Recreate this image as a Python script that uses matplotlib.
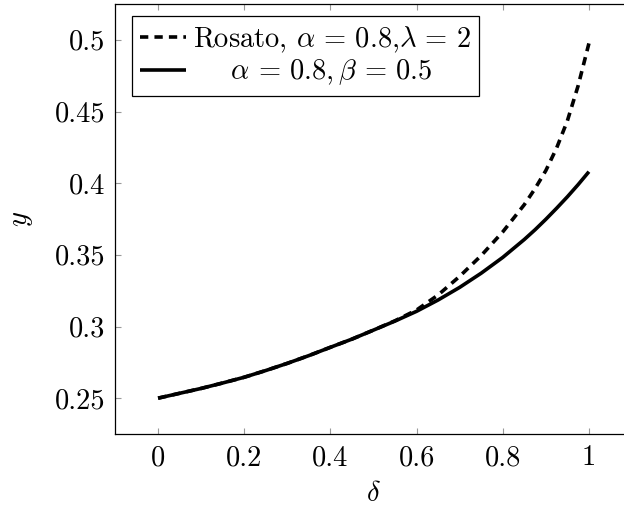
import matplotlib
matplotlib.use("Agg")
import matplotlib.pyplot as plt

# ---- data ----
delta = [0.0, 0.05, 0.1, 0.15, 0.2, 0.25, 0.3, 0.35, 0.4, 0.45, 0.5,
         0.55, 0.6, 0.65, 0.7, 0.75, 0.8, 0.85, 0.875, 0.9, 0.925, 0.95, 0.975, 1.0]
y_rosato = [0.250, 0.2534, 0.2568, 0.2606, 0.2646, 0.2693, 0.2743, 0.2797, 0.2855, 0.2912, 0.2975,
            0.3040, 0.3115, 0.3220, 0.3350, 0.3495, 0.3660, 0.3850, 0.3962, 0.4088, 0.4245,
            0.4435, 0.4680, 0.4975]
y_model = [0.250, 0.2534, 0.2568, 0.2606, 0.2646, 0.2693, 0.2743, 0.2797, 0.2855, 0.2912, 0.2975,
           0.3038, 0.3106, 0.3185, 0.3273, 0.3372, 0.3482, 0.3607, 0.3675, 0.3748, 0.3825,
           0.3905, 0.3990, 0.4080]
label_rosato = r"Rosato, $\alpha\,=\,0.8$,$\lambda\,=\,2$"
label_model = r"    $\alpha\,=\,0.8, \beta\,=\,0.5$"
xticks = [0, 0.2, 0.4, 0.6, 0.8, 1.0]
xticklabels = ["0", "0.2", "0.4", "0.6", "0.8", "1"]
yticks = [0.25, 0.3, 0.35, 0.4, 0.45, 0.5]
yticklabels = ["0.25", "0.3", "0.35", "0.4", "0.45", "0.5"]

plt.rcParams['font.family'] = 'serif'
plt.rcParams['font.serif'] = ['cmr10', 'DejaVu Serif']
plt.rcParams['mathtext.fontset'] = 'cm'
plt.rcParams['axes.formatter.use_mathtext'] = True

fig = plt.figure(figsize=(6.24, 5.08), dpi=100)
ax = fig.add_axes([115/624, 74/508, (632-115)/624, 430/508])

fs = 20.5
ax.plot(delta, y_rosato, color='black', lw=2.6, linestyle=(0, (2.3, 1.7)),
        dash_capstyle='butt', label=label_rosato)
ax.plot(delta, y_model, color='black', lw=2.6, solid_capstyle='butt', label=label_model)

ax.set_xlim(-0.1, 1.1)
ax.set_ylim(0.225, 0.525)
ax.set_xticks(xticks)
ax.set_xticklabels(xticklabels, fontsize=fs)
ax.set_yticks(yticks)
ax.set_yticklabels(yticklabels, fontsize=fs)
ax.tick_params(direction='in', length=4.5, width=0.8, color='#999999',
               top=True, right=True)
ax.tick_params(axis='x', pad=8)
ax.tick_params(axis='y', pad=7)
for s in ax.spines.values():
    s.set_linewidth(0.9)
    s.set_color('black')

ax.set_xlabel(r"$\delta$", fontsize=fs, labelpad=7)
ax.set_ylabel(r"$y$", fontsize=fs, labelpad=14)

leg = ax.legend(loc='upper left', bbox_to_anchor=(0.032, 0.972), fontsize=fs,
                frameon=True, fancybox=False, framealpha=1, edgecolor='black',
                handlelength=1.6, handletextpad=0.25, borderpad=0.3,
                labelspacing=0.1, borderaxespad=0)
leg.get_frame().set_linewidth(0.9)

fig.savefig("out.png", dpi=100)
